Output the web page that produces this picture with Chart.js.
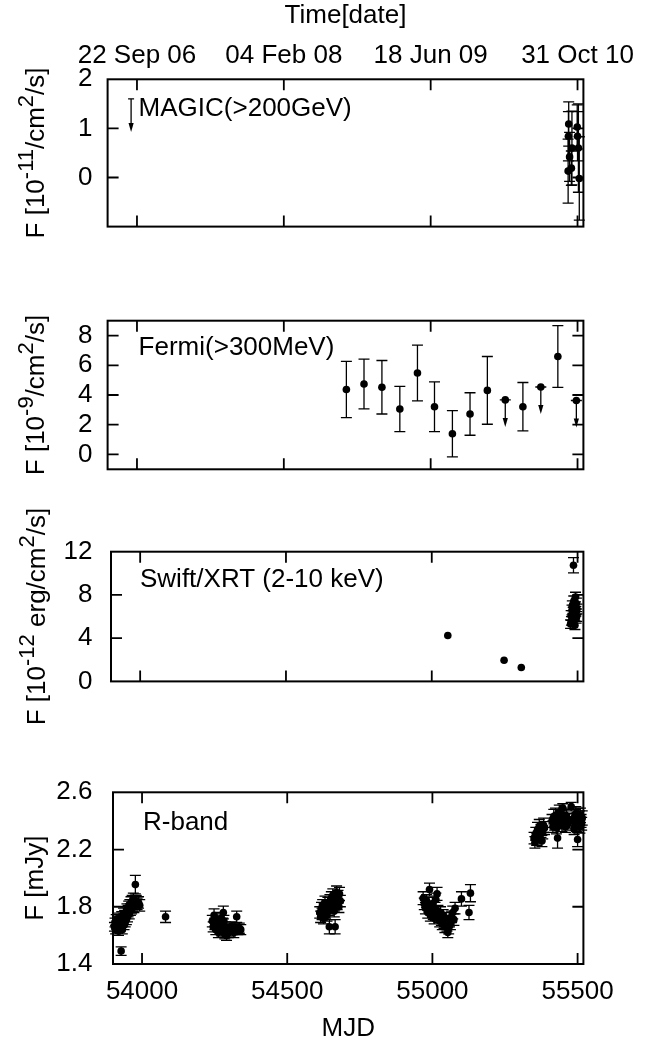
<!DOCTYPE html>
<html>
<head>
<meta charset="utf-8">
<script src="https://cdn.jsdelivr.net/npm/chart.js@4.4.1/dist/chart.umd.min.js"></script>
<style>
  html, body { margin: 0; padding: 0; background: #fff; }
  #wrap { position: relative; width: 669px; height: 1047px; overflow: hidden; }
  canvas { position: absolute; left: 0; }
</style>
</head>
<body>
<div id="wrap">
  <canvas id="magic" width="669" height="260" style="top:0px"></canvas>
  <canvas id="fermi" width="669" height="210" style="top:290px"></canvas>
  <canvas id="swift" width="669" height="245" style="top:505px"></canvas>
  <canvas id="rband" width="669" height="307" style="top:740px"></canvas>
</div>
<script>
// ---- data ----
const mjdTicks = [54000, 54500, 55000, 55500];
const dateLabels = ["22 Sep 06", "04 Feb 08", "18 Jun 09", "31 Oct 10"];

// MAGIC (>200 GeV), 1e-11 /cm2/s
const mgMjd = [55470, 55469, 55473, 55468, 55481, 55479, 55499, 55500, 55503, 55506];
const mgFlux = [1.09, 0.84, 0.42, 0.13, 0.60, 0.19, 1.03, 0.84, 0.60, -0.02];
const mgErr = [0.45, 0.50, 0.50, 0.65, 0.75, 0.35, 0.45, 0.50, 0.90, 0.85];
const mgUlMjd = [53980];
const mgUlFlux = [1.6];
const mgTicks = [0, 1, 2];

// Fermi (>300 MeV), 1e-9 /cm2/s
const feMjd = [54713, 54773, 54834, 54895, 54955, 55013, 55074, 55134, 55193, 55314, 55433];
const feFlux = [4.37, 4.74, 4.52, 3.06, 5.48, 3.21, 1.39, 2.72, 4.31, 3.21, 6.59];
const feErr = [1.89, 1.67, 1.80, 1.52, 1.87, 1.67, 1.56, 1.43, 2.28, 1.63, 2.08];
const feUlMjd = [55254, 55375, 55496];
const feUlFlux = [3.67, 4.54, 3.63];
const feTicks = [0, 2, 4, 6, 8];

// Swift/XRT (2-10 keV), 1e-12 erg/cm2/s
const swMjd = [55055, 55248, 55307, 55476, 55478, 55479, 55481, 55482, 55484, 55485, 55486, 55487, 55488, 55490, 55491, 55493, 55494, 55495, 55496, 55497, 55498];
const swFlux = [4.24, 1.95, 1.28, 5.3, 6.1, 5.6, 6.6, 7.0, 5.9, 6.4, 10.75, 7.4, 6.2, 6.8, 5.2, 7.8, 6.5, 5.8, 7.2, 6.0, 6.7];
const swErr = [0, 0, 0, 0.40, 0.45, 0.40, 0.45, 0.45, 0.40, 0.45, 0.70, 0.50, 0.40, 0.45, 0.40, 0.45, 0.45, 0.40, 0.50, 0.45, 0.45];
const swTicks = [0, 4, 8, 12];

// R-band, mJy
const rMjd = [
  53905, 53907, 53909, 53911, 53913, 53915, 53917, 53919, 53921, 53923, 53925, 53928, 53930, 53932, 53934, 53936, 53938, 53940, 53942, 53944,
  53946, 53948, 53950, 53952, 53954, 53956, 53958, 53960, 53962, 53964, 53966, 53968, 53970, 53972, 53974, 53977, 53980, 53983, 53988, 53992,
  54081,
  54242, 54245, 54248, 54251, 54254, 54257, 54260, 54263, 54266, 54269, 54272, 54275, 54278, 54280, 54282, 54285, 54288, 54291, 54294, 54297,
  54300, 54304, 54308, 54312, 54316, 54320, 54326, 54330, 54335, 54340,
  54612, 54615, 54618, 54620, 54622, 54625, 54627, 54630, 54632, 54635, 54637, 54640, 54642, 54645, 54647, 54650, 54652, 54655, 54657, 54660,
  54662, 54665, 54667, 54670, 54672, 54675, 54678, 54680, 54683,
  54968, 54972, 54976, 54980, 54984, 54988, 54990, 54993, 54996, 55000, 55003, 55006, 55009, 55012, 55016, 55019, 55022, 55025, 55028, 55031,
  55034, 55037, 55040, 55043, 55046, 55050, 55053, 55056, 55059, 55062, 55066, 55070, 55074, 55078, 55100, 55126, 55131,
  55350, 55353, 55356, 55359, 55362, 55365, 55368, 55371, 55374, 55377, 55380, 55383, 55386,
  55412, 55415, 55418, 55421, 55424, 55427, 55431, 55434, 55437, 55440, 55443, 55446, 55449, 55452, 55455, 55458, 55462, 55466, 55470, 55478,
  55486, 55488, 55490, 55492, 55494, 55496, 55498, 55500, 55502, 55504, 55506, 55508, 55510, 55512, 55514, 55516
];
const rFlux = [
  1.66, 1.69, 1.64, 1.71, 1.67, 1.65, 1.70, 1.63, 1.72, 1.66, 1.68, 1.49, 1.73, 1.64, 1.70, 1.75, 1.67, 1.74, 1.69, 1.76,
  1.71, 1.78, 1.73, 1.77, 1.80, 1.75, 1.81, 1.78, 1.83, 1.79, 1.84, 1.81, 1.85, 1.80, 1.83, 1.955, 1.84, 1.82, 1.83, 1.81,
  1.73,
  1.70, 1.66, 1.74, 1.68, 1.64, 1.71, 1.67, 1.62, 1.69, 1.65, 1.72, 1.63, 1.68, 1.76, 1.70, 1.61, 1.66, 1.60, 1.64, 1.62,
  1.65, 1.63, 1.66, 1.64, 1.62, 1.65, 1.73, 1.64, 1.65, 1.64,
  1.76, 1.73, 1.79, 1.75, 1.81, 1.72, 1.78, 1.83, 1.76, 1.80, 1.74, 1.82, 1.78, 1.66, 1.84, 1.79, 1.86, 1.81, 1.88, 1.83,
  1.77, 1.66, 1.85, 1.90, 1.82, 1.87, 1.80, 1.89, 1.84,
  1.86, 1.82, 1.79, 1.84, 1.76, 1.80, 1.92, 1.74, 1.78, 1.82, 1.75, 1.72, 1.79, 1.85, 1.89, 1.77, 1.73, 1.70, 1.76, 1.71,
  1.68, 1.74, 1.69, 1.66, 1.72, 1.67, 1.62, 1.65, 1.70, 1.68, 1.73, 1.76, 1.71, 1.79, 1.855, 1.76, 1.895,
  2.28, 2.25, 2.31, 2.27, 2.34, 2.29, 2.36, 2.30, 2.33, 2.26, 2.32, 2.37, 2.35,
  2.40, 2.36, 2.43, 2.38, 2.44, 2.35, 2.28, 2.41, 2.46, 2.39, 2.42, 2.37, 2.49, 2.44, 2.40, 2.36, 2.43, 2.38, 2.41, 2.50,
  2.40, 2.35, 2.43, 2.38, 2.45, 2.37, 2.41, 2.27, 2.44, 2.39, 2.42, 2.36, 2.44, 2.40, 2.38, 2.42
];
const rErr = [
  0.03, 0.03, 0.03, 0.035, 0.03, 0.03, 0.035, 0.03, 0.035, 0.03, 0.03, 0.03, 0.035, 0.03, 0.035, 0.04, 0.03, 0.035, 0.03, 0.04,
  0.035, 0.04, 0.035, 0.04, 0.04, 0.035, 0.04, 0.04, 0.04, 0.04, 0.04, 0.04, 0.045, 0.04, 0.04, 0.065, 0.04, 0.04, 0.04, 0.04,
  0.04,
  0.04, 0.035, 0.045, 0.04, 0.035, 0.04, 0.035, 0.035, 0.04, 0.035, 0.04, 0.035, 0.04, 0.045, 0.04, 0.035, 0.035, 0.035, 0.035, 0.035,
  0.035, 0.035, 0.035, 0.035, 0.035, 0.035, 0.04, 0.035, 0.035, 0.035,
  0.04, 0.04, 0.04, 0.04, 0.04, 0.04, 0.04, 0.045, 0.04, 0.04, 0.04, 0.045, 0.04, 0.05, 0.045, 0.04, 0.045, 0.04, 0.045, 0.045,
  0.04, 0.05, 0.045, 0.045, 0.04, 0.045, 0.04, 0.045, 0.04,
  0.045, 0.04, 0.04, 0.045, 0.04, 0.04, 0.045, 0.04, 0.04, 0.045, 0.04, 0.04, 0.04, 0.045, 0.045, 0.04, 0.04, 0.04, 0.04, 0.04,
  0.04, 0.04, 0.04, 0.04, 0.04, 0.04, 0.035, 0.04, 0.04, 0.04, 0.04, 0.045, 0.04, 0.04, 0.05, 0.05, 0.06,
  0.04, 0.04, 0.045, 0.04, 0.05, 0.04, 0.05, 0.04, 0.045, 0.04, 0.045, 0.05, 0.045,
  0.045, 0.04, 0.05, 0.045, 0.05, 0.04, 0.07, 0.045, 0.05, 0.045, 0.05, 0.045, 0.03, 0.05, 0.045, 0.04, 0.05, 0.045, 0.045, 0.03,
  0.05, 0.045, 0.05, 0.045, 0.05, 0.045, 0.05, 0.05, 0.05, 0.045, 0.05, 0.045, 0.05, 0.045, 0.045, 0.05
];
const rTicks = [1.4, 1.8, 2.2, 2.6];

// ---- drawing ----
const FONT = "'Liberation Sans', Arial, Helvetica, sans-serif";
const FS = 26;
const TITLE_FS = 26;
const X_MIN = 53900;
const X_MAX = 55520;

Chart.defaults.font.family = FONT;
Chart.defaults.color = "#000";

const pts = (xs, ys) => xs.map((v, i) => ({ x: v, y: ys[i] }));

// error bars and upper-limit arrows, drawn under the dots
const errorBars = {
    id: "errorBars",
    beforeDatasetsDraw(chart) {
        const { ctx, chartArea: a, scales: { x, y } } = chart;
        ctx.save();
        ctx.beginPath();
        ctx.rect(a.left - 8, a.top, a.width + 16, a.height);
        ctx.clip();
        ctx.strokeStyle = "#000";
        ctx.fillStyle = "#000";
        ctx.lineWidth = 1.3;
        chart.data.datasets.forEach((ds) => {
            const cap = ds.cap || 5.5;
            ds.data.forEach((p, i) => {
                const px = x.getPixelForValue(p.x);
                const py = y.getPixelForValue(p.y);
                if (ds.errors && ds.errors[i] > 0) {
                    const hi = y.getPixelForValue(p.y + ds.errors[i]);
                    const lo = y.getPixelForValue(p.y - ds.errors[i]);
                    ctx.beginPath();
                    ctx.moveTo(px, hi); ctx.lineTo(px, lo);
                    ctx.moveTo(px - cap, hi); ctx.lineTo(px + cap, hi);
                    ctx.moveTo(px - cap, lo); ctx.lineTo(px + cap, lo);
                    ctx.stroke();
                }
                if (ds.arrow) {
                    const tip = py + ds.arrow;
                    ctx.beginPath();
                    ctx.moveTo(px - cap, py); ctx.lineTo(px + cap, py);
                    ctx.moveTo(px, py); ctx.lineTo(px, tip - 8);
                    ctx.stroke();
                    ctx.beginPath();
                    ctx.moveTo(px - 2.6, tip - 9);
                    ctx.lineTo(px + 2.6, tip - 9);
                    ctx.lineTo(px, tip);
                    ctx.closePath();
                    ctx.fill();
                }
            });
        });
        ctx.restore();
    }
};

// gnuplot style frame with inward ticks on all four sides
const frame = {
    id: "frame",
    afterDraw(chart, args, opts) {
        const { ctx, chartArea: a, scales: { x, y } } = chart;
        const len = 11;
        ctx.save();
        ctx.strokeStyle = "#000";
        ctx.lineWidth = 1.8;
        ctx.beginPath();
        mjdTicks.forEach((v) => {
            const px = x.getPixelForValue(v);
            ctx.moveTo(px, a.bottom); ctx.lineTo(px, a.bottom - len);
            ctx.moveTo(px, a.top); ctx.lineTo(px, a.top + len);
        });
        opts.yTicks.forEach((v) => {
            const py = y.getPixelForValue(v);
            if (Math.abs(py - a.top) < 2 || Math.abs(py - a.bottom) < 2) return;
            ctx.moveTo(a.left, py); ctx.lineTo(a.left + len, py);
            ctx.moveTo(a.right, py); ctx.lineTo(a.right - len, py);
        });
        ctx.stroke();
        ctx.lineWidth = 2;
        ctx.strokeRect(a.left, a.top, a.width, a.height);
        ctx.restore();
    }
};

// rotated y title with real superscripts, written as "10^{-11}"
const yTitle = {
    id: "yTitle",
    afterDraw(chart, args, opts) {
        const { ctx, chartArea: a } = chart;
        const small = Math.round(TITLE_FS * 0.85);
        const parts = [];
        const re = /\^\{([^}]*)\}/g;
        let last = 0;
        let m;
        while ((m = re.exec(opts.text))) {
            if (m.index > last) parts.push({ t: opts.text.slice(last, m.index), sup: false });
            parts.push({ t: m[1], sup: true });
            last = re.lastIndex;
        }
        if (last < opts.text.length) parts.push({ t: opts.text.slice(last), sup: false });

        ctx.save();
        ctx.fillStyle = "#000";
        ctx.textAlign = "left";
        ctx.textBaseline = "alphabetic";
        let total = 0;
        parts.forEach((p) => {
            ctx.font = `${p.sup ? small : TITLE_FS}px ${FONT}`;
            p.w = ctx.measureText(p.t).width;
            total += p.w;
        });
        ctx.translate(opts.x, (a.top + a.bottom) / 2);
        ctx.rotate(-Math.PI / 2);
        let cx = -total / 2;
        parts.forEach((p) => {
            ctx.font = `${p.sup ? small : TITLE_FS}px ${FONT}`;
            ctx.fillText(p.t, cx, p.sup ? -TITLE_FS * 0.42 : 0);
            cx += p.w;
        });
        ctx.restore();
    }
};

const panelLabel = {
    id: "panelLabel",
    afterDraw(chart, args, opts) {
        const { ctx, chartArea: a } = chart;
        ctx.save();
        ctx.fillStyle = "#000";
        ctx.font = `${FS}px ${FONT}`;
        ctx.textBaseline = "alphabetic";
        ctx.fillText(opts.text, a.left + opts.dx, a.top + opts.dy);
        ctx.restore();
    }
};

const makePanel = (id, cfg) => {
    const canvas = document.getElementById(id);
    const H = canvas.height;
    const area = cfg.area;
    const scales = {
        x: {
            type: "linear",
            min: X_MIN,
            max: X_MAX,
            display: !!cfg.bottomLabels,
            afterBuildTicks: (s) => { s.ticks = mjdTicks.map((v) => ({ value: v })); },
            afterFit: (s) => { s.height = H - area.bottom; },
            grid: { display: false, drawTicks: false },
            border: { display: false },
            ticks: {
                font: { size: FS },
                padding: 12,
                maxRotation: 0,
                autoSkip: false,
                callback: (v) => String(v)
            },
            title: {
                display: !!cfg.bottomLabels,
                text: "MJD",
                font: { size: FS, lineHeight: 1 },
                padding: { top: 0, bottom: 5 }
            }
        },
        y: {
            type: "linear",
            min: cfg.yMin,
            max: cfg.yMax,
            afterBuildTicks: (s) => { s.ticks = cfg.yTicks.map((v) => ({ value: v })); },
            afterFit: (s) => { s.width = area.left; },
            grid: { display: false, drawTicks: false },
            border: { display: false },
            ticks: {
                font: { size: FS },
                padding: area.left - 92.5,
                callback: (v) => v.toFixed(cfg.decimals || 0)
            }
        }
    };
    if (cfg.topLabels) {
        scales.x2 = {
            type: "linear",
            position: "top",
            min: X_MIN,
            max: X_MAX,
            afterBuildTicks: (s) => { s.ticks = mjdTicks.map((v) => ({ value: v })); },
            afterFit: (s) => { s.height = area.top; },
            grid: { display: false, drawTicks: false },
            border: { display: false },
            ticks: {
                font: { size: FS },
                padding: 8,
                maxRotation: 0,
                autoSkip: false,
                callback: (v) => dateLabels[mjdTicks.indexOf(v)]
            },
            title: {
                display: true,
                text: "Time[date]",
                font: { size: FS, lineHeight: 1 },
                padding: { top: 3, bottom: 0 }
            }
        };
    }

    return new Chart(canvas, {
        type: "scatter",
        data: { datasets: cfg.datasets },
        options: {
            responsive: false,
            animation: false,
            devicePixelRatio: 1,
            events: [],
            layout: {
                padding: {
                    left: 0,
                    right: 669 - area.right,
                    top: cfg.topLabels ? 0 : area.top,
                    bottom: cfg.bottomLabels ? 0 : H - area.bottom
                }
            },
            scales,
            plugins: {
                legend: { display: false },
                tooltip: { enabled: false },
                frame: { yTicks: cfg.yTicks },
                yTitle: { text: cfg.yTitle, x: cfg.titleX },
                panelLabel: cfg.label
            }
        },
        plugins: [errorBars, frame, yTitle, panelLabel]
    });
};

const dot = { pointRadius: 3.8, pointBackgroundColor: "#000", pointBorderWidth: 0, showLine: false, clip: false };

makePanel("magic", {
    area: { left: 107.6, right: 583.4, top: 79.3, bottom: 243.3 },
    topLabels: true,
    yMin: -1, yMax: 2, yTicks: mgTicks,
    yTitle: "F [10^{-11}/cm^{2}/s]", titleX: 44,
    label: { text: "MAGIC(>200GeV)", dx: 31, dy: 37 },
    datasets: [
        { ...dot, data: pts(mgMjd, mgFlux), errors: mgErr },
        { ...dot, pointRadius: 0, data: pts(mgUlMjd, mgUlFlux), arrow: 33, cap: 3 }
    ]
});

makePanel("fermi", {
    area: { left: 107.6, right: 583.4, top: 30, bottom: 195 },
    yMin: -1, yMax: 9, yTicks: feTicks,
    yTitle: "F [10^{-9}/cm^{2}/s]", titleX: 44,
    label: { text: "Fermi(>300MeV)", dx: 31, dy: 34 },
    datasets: [
        { ...dot, data: pts(feMjd, feFlux), errors: feErr },
        { ...dot, data: pts(feUlMjd, feUlFlux), arrow: 27 }
    ]
});

makePanel("swift", {
    area: { left: 111, right: 583.4, top: 46.7, bottom: 210.7 },
    yMin: 0, yMax: 12, yTicks: swTicks,
    yTitle: "F [10^{-12} erg/cm^{2}/s]", titleX: 45,
    label: { text: "Swift/XRT (2-10 keV)", dx: 29, dy: 35 },
    datasets: [
        { ...dot, data: pts(swMjd, swFlux), errors: swErr }
    ]
});

makePanel("rband", {
    area: { left: 113, right: 583.4, top: 52.3, bottom: 224 },
    bottomLabels: true,
    yMin: 1.4, yMax: 2.6, yTicks: rTicks, decimals: 1,
    yTitle: "F [mJy]", titleX: 43,
    label: { text: "R-band", dx: 30, dy: 38 },
    datasets: [
        { ...dot, data: pts(rMjd, rFlux), errors: rErr }
    ]
});
</script>
</body>
</html>
